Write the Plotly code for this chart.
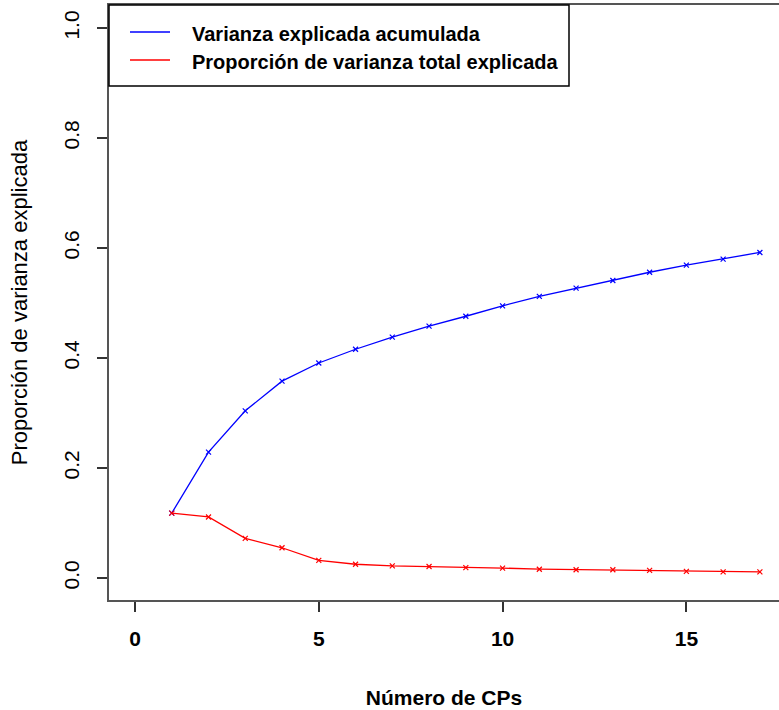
import plotly.graph_objects as go

n_cp = list(range(1, 18))
var_acumulada = [0.118, 0.229, 0.304, 0.358, 0.391, 0.416, 0.438, 0.458, 0.476,
                 0.495, 0.512, 0.527, 0.541, 0.556, 0.569, 0.580, 0.592]
prop_var = [0.118, 0.111, 0.072, 0.055, 0.032, 0.025, 0.022, 0.021, 0.019,
            0.018, 0.016, 0.015, 0.015, 0.014, 0.012, 0.011, 0.011]
x_ticks = [0, 5, 10, 15]
y_ticks = [0.0, 0.2, 0.4, 0.6, 0.8, 1.0]
y_labels = ["0.0", "0.2", "0.4", "0.6", "0.8", "1.0"]
series_names = ["Varianza explicada acumulada", "Proporción de varianza total explicada"]
series_colors = ["#0000ff", "#ff0000"]

FONT = "Liberation Sans, Arial, sans-serif"

fig = go.Figure()
for vals, name, col in zip([var_acumulada, prop_var], series_names, series_colors):
    fig.add_trace(go.Scatter(
        x=n_cp, y=vals, mode="lines+markers", name=name, showlegend=False,
        line=dict(color=col, width=1.3),
        marker=dict(symbol="x-thin", size=5, line=dict(color=col, width=1.2)),
    ))

# Manual legend box (R-style), paper coordinates of plot area
W_PLOT, H_PLOT = 670.0, 595.0
def px_x(p):
    return (p - 109) / W_PLOT
def px_y(p):
    return (600 - p) / H_PLOT

shapes = [dict(type="rect", xref="paper", yref="paper",
               x0=0, x1=px_x(569), y0=px_y(86), y1=1,
               line=dict(color="black", width=1.5), fillcolor="white", layer="above")]
annotations = []
for i, (name, col) in enumerate(zip(series_names, series_colors)):
    ly = 32 + 28 * i
    shapes.append(dict(type="line", xref="paper", yref="paper",
                       x0=px_x(130), x1=px_x(170), y0=px_y(ly), y1=px_y(ly),
                       line=dict(color=col, width=1.3), layer="above"))
    annotations.append(dict(xref="paper", yref="paper", x=px_x(190), y=px_y(ly + 2),
                            xanchor="left", yanchor="middle", showarrow=False,
                            text="<b>" + name + "</b>",
                            font=dict(size=20, family=FONT, color="black")))

fig.update_layout(
    width=779, height=710,
    margin=dict(l=109, r=0, t=5, b=110),
    paper_bgcolor="white", plot_bgcolor="white",
    font=dict(family=FONT, color="black"),
    showlegend=False,
    shapes=shapes, annotations=annotations,
    xaxis=dict(
        range=[-0.707, 17.52], tickvals=x_ticks, ticktext=[str(v) for v in x_ticks],
        showgrid=False, zeroline=False, automargin=False,
        showline=True, linecolor="#555555", linewidth=2, mirror=True,
        ticks="outside", ticklen=10, tickcolor="#333333", tickwidth=1.5,
        ticklabelstandoff=9,
        tickfont=dict(size=21, family=FONT, weight="bold"),
        title=dict(text="Número de CPs", font=dict(size=21, family=FONT, weight="bold"),
                   standoff=41),
    ),
    yaxis=dict(
        range=[-0.04, 1.042], tickvals=y_ticks, ticktext=y_labels,
        showgrid=False, zeroline=False, automargin=False,
        showline=True, linecolor="#555555", linewidth=2, mirror=False,
        ticks="outside", ticklen=10, tickcolor="#333333", tickwidth=1.5,
        tickangle=-90, ticklabelstandoff=10,
        tickfont=dict(size=21, family=FONT),
        title=dict(text="Proporción de varianza explicada", font=dict(size=22, family=FONT),
                   standoff=26),
    ),
)

fig.write_html("out.html",
               config={"displayModeBar": False},
               post_script="document.body.style.margin='0';document.body.style.padding='0';")
